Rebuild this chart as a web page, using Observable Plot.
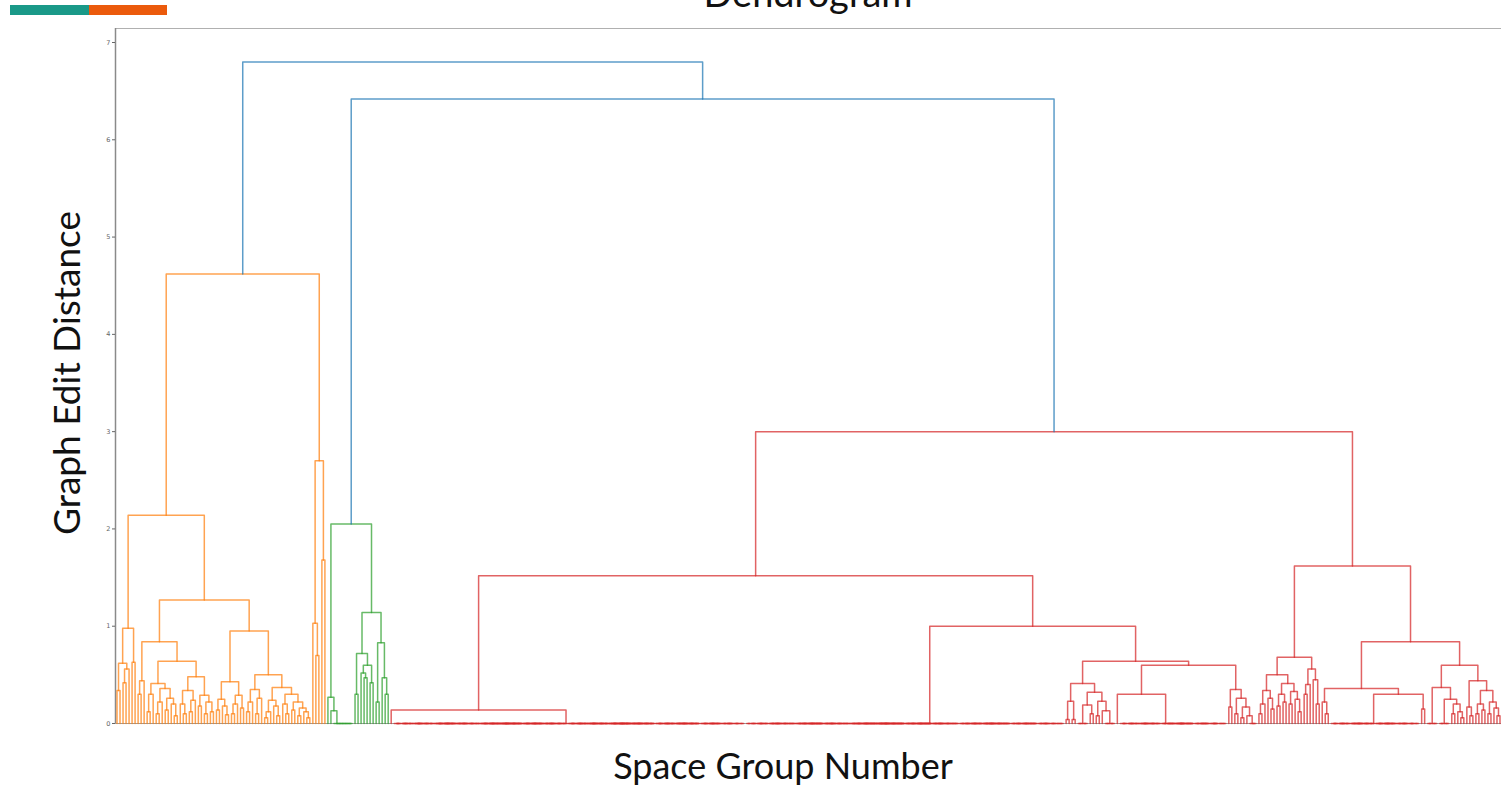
<!DOCTYPE html>
<html><head><meta charset="utf-8">
<script src="https://cdn.jsdelivr.net/npm/d3@7"></script>
<script src="https://cdn.jsdelivr.net/npm/@observablehq/plot@0.6"></script>
<style>
html,body{margin:0;padding:0;background:#fff;overflow:hidden;}
#wrap{position:relative;width:1504px;height:787px;overflow:hidden;}
#wrap svg{position:absolute;left:0;top:0;}
</style></head><body><div id="wrap"></div>
<script>
// ---- data (merge heights = graph edit distance; plain numbers = count of leaves joined at distance 0; "cN" = chain of N leaves at 0)
const titleText = "Dendrogram";
const xLabel = "Space Group Number";
const yLabel = "Graph Edit Distance";
const yTicks = [0, 1, 2, 3, 4, 5, 6, 7];
const topMerges = [6.8, 6.42]; // root (orange | rest), then (green | red)
const clusterColors = {orange: "#ff7f0e", green: "#2ca02c", red: "#d62728", above: "#1f77b4"};

const orangeTree = [4.62,
  [2.14,
    [0.98, [0.62, [0.34, 1, 1], [0.56, [0.42, 1, 1], 1]], [0.63, 1, 1]],
    [1.27,
      [0.84, [0.44, [0.3, 1, 1], 1],
        [0.64,
          [0.41, [0.3, [0.12, 1, 1], 1],
                 [0.36, [0.22, [0.1, 1, 1], 1], [0.26, [0.14, 1, 1], [0.2, 1, [0.08, 1, 1]]]]],
          [0.48, [0.34, [0.2, 1, [0.1, 1, 1]], [0.24, [0.12, 1, 1], 1]],
                 [0.29, [0.18, 1, 1], [0.22, [0.1, 1, 1], [0.12, 1, 1]]]]]],
      [0.95,
        [0.43, [0.25, [0.14, 1, 1], [0.18, 1, [0.09, 1, 1]]],
               [0.29, [0.2, [0.1, 1, 1], 1], [0.16, 1, 1]]],
        [0.5, [0.35, [0.22, [0.12, 1, 1], 1], [0.26, [0.1, 1, 1], 1]],
              [0.37, [0.24, [0.12, [0.06, 1, 1], 1], [0.18, 1, [0.08, 1, 1]]],
                     [0.3, [0.2, 1, [0.1, 1, 1]], [0.22, [0.14, 1, 1], [0.16, [0.08, 1, 1], [0.12, 1, [0.06, 1, 1]]]]]]]]]],
  [2.7, [1.03, 1, [0.7, 1, 1]], [1.68, 1, 1]]
];

const greenTree = [2.05,
  [0.27, 1, [0.13, 1, "c7"]],
  [1.14, [0.72, [0.3, 1, 1], [0.6, [0.52, 1, [0.47, 1, 1]], [0.42, 1, 1]]],
         [0.83, [0.22, 1, 1], [0.47, 1, [0.3, 1, 1]]]]
];

const redTree = [3.0,
  [1.52,
    [0.14, 1, 117],
    [1.0, [0, 71, 35],
      [0.64,
        [0.41, [0.23, [0.04, 1, 1], [0.04, 1, 1]],
               [0.32, [0.19, 4, [0.1, 1, 1]], [0.23, [0.08, 1, 1], [0.13, 1, 4]]]],
        [0.6, [0.3, 1, [0, 14, 22]],
              [0.35, [0.17, 1, 1], [0.26, [0.1, 1, 1], [0.17, [0.06, 1, 1], [0.08, 1, 3]]]]]]]],
  [1.62,
    [0.68,
      [0.5, [0.34, [0.2, [0.1, 1, 1], 1], [0.26, 1, [0.15, 1, 1]]],
            [0.41, [0.3, [0.18, 1, 1], [0.22, 1, 1]], [0.33, [0.2, 1, 1], [0.25, 1, [0.12, 1, 1]]]]],
      [0.56, [0.4, [0.3, 1, 1], 1], [0.45, 1, [0.2, 1, 1]]]],
    [0.84,
      [0.36, [0.22, 1, [0.1, 1, 1]], [0.3, 30, [0.15, 1, 1]]],
      [0.6,
        [0.37, 4, [0.25, 4, [0.2, [0.1, 1, 1], [0.12, 1, [0.06, 1, 1]]]]],
        [0.44, [0.17, 1, [0.08, 1, 1]],
               [0.34, [0.2, [0.1, 1, 1], [0.14, 1, 1]], [0.22, [0.1, 1, 1], [0.16, 1, [0.08, 1, 1]]]]]]]]
];

// ---- layout (scipy-style: leaves at i+0.5, node at mean of children)
let leafCount = 0;
const links = [];
function lay(node, color) {
  if (typeof node === "number") {
    if (node === 1) { const x = leafCount + 0.5; leafCount++; return {x, h: 0}; }
    const a = Math.floor(node / 2);
    return lay([0, a, node - a], color);
  }
  if (typeof node === "string") {
    const n = +node.slice(1);
    if (n === 1) return lay(1, color);
    return lay([0, 1, "c" + (n - 1)], color);
  }
  const [h, a, b] = node;
  const L = lay(a, color), R = lay(b, color);
  links.push({x1: L.x, y1: L.h, x2: R.x, y2: R.h, h, color});
  return {x: (L.x + R.x) / 2, h};
}
const O = lay(orangeTree, clusterColors.orange);
const G = lay(greenTree, clusterColors.green);
const R = lay(redTree, clusterColors.red);
links.push({x1: G.x, y1: G.h, x2: R.x, y2: R.h, h: topMerges[1], color: clusterColors.above});
const GR = {x: (G.x + R.x) / 2, h: topMerges[1]};
links.push({x1: O.x, y1: O.h, x2: GR.x, y2: GR.h, h: topMerges[0], color: clusterColors.above});

const points = [];
links.forEach((l, i) => {
  points.push({id: i, x: l.x1, y: l.y1, color: l.color});
  points.push({id: i, x: l.x1, y: l.h, color: l.color});
  points.push({id: i, x: l.x2, y: l.h, color: l.color});
  points.push({id: i, x: l.x2, y: l.y2, color: l.color});
});
const N = leafCount;
const yTop = 7.144;

const chart = Plot.plot({
  width: 1504, height: 787,
  marginLeft: 115, marginRight: 3, marginTop: 28, marginBottom: 64,
  x: {domain: [0, N], axis: null},
  y: {domain: [0, yTop], axis: null},
  color: {type: "identity"},
  style: {background: "transparent", fontFamily: "DejaVu Sans"},
  marks: [
    Plot.ruleY([yTop], {stroke: "#b0b0b0", strokeWidth: 1.2}),
    Plot.ruleY([0], {stroke: "#9a9a9a", strokeWidth: 1}),
    Plot.ruleX([0], {stroke: "#8a8a8a", strokeWidth: 1.5}),
    Plot.axisY({ticks: yTicks, tickSize: 3, tickPadding: 2, fontSize: 6.5, color: "#666", label: null, tickFormat: d => String(d)}),
    Plot.line(points, {x: "x", y: "y", z: "id", stroke: "color", strokeWidth: 1.5, strokeOpacity: 0.72})
  ]
});
document.getElementById("wrap").appendChild(chart);

// ---- slide decorations and titles
const ov = d3.select("#wrap").append("svg").attr("width", 1504).attr("height", 787);
ov.append("rect").attr("x", 10).attr("y", 5).attr("width", 79).attr("height", 10).attr("fill", "#1a9988");
ov.append("rect").attr("x", 89).attr("y", 5).attr("width", 78).attr("height", 10).attr("fill", "#eb5a0c");
const font = "Lato, 'Open Sans', sans-serif";
ov.append("text").attr("x", 808).attr("y", 7).attr("text-anchor", "middle")
  .style("font-family", font).style("font-size", "38px").attr("fill", "#111").text(titleText);
ov.append("text").attr("transform", "translate(80,373) rotate(-90)").attr("text-anchor", "middle")
  .style("font-family", font).style("font-size", "37px").attr("fill", "#111").text(yLabel);
ov.append("text").attr("x", 783).attr("y", 779).attr("text-anchor", "middle")
  .style("font-family", font).style("font-size", "36px").attr("fill", "#111").text(xLabel);
</script></body></html>
